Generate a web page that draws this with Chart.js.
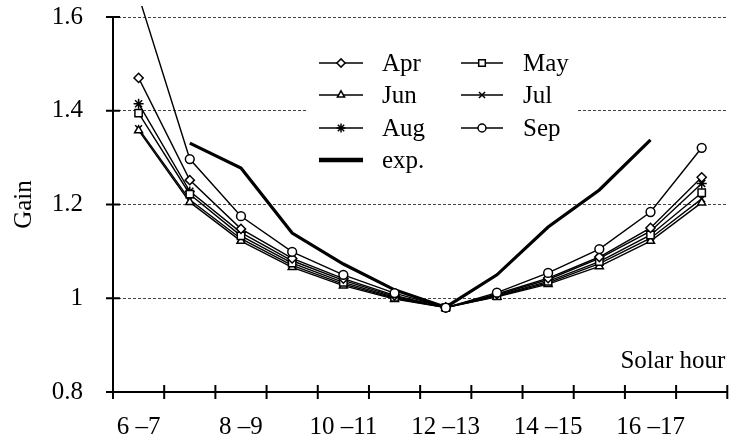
<!DOCTYPE html>
<html>
<head>
<meta charset="utf-8">
<script src="https://cdn.jsdelivr.net/npm/chart.js@4.4.1/dist/chart.umd.min.js"></script>
<style>
  html, body { margin: 0; padding: 0; background: #fff; }
  canvas { display: block; }
</style>
</head>
<body>
<canvas id="gain" width="734" height="441"></canvas>
<script>
// Hour intervals (solar time) on the x axis
const hours = ['6 –7', '7 –8', '8 –9', '9 –10', '10 –11', '11 –12',
               '12 –13', '13 –14', '14 –15', '15 –16', '16 –17', '17 –18'];
// Gain values on the y axis
const yTicks = [0.8, 1.0, 1.2, 1.4, 1.6];

// Monthly computed gain per hour interval
const apr = [1.470, 1.252, 1.148, 1.085, 1.042, 1.006, 0.980, 1.009, 1.043, 1.088, 1.150, 1.258];
const may = [1.395, 1.222, 1.133, 1.075, 1.034, 1.002, 0.980, 1.005, 1.036, 1.078, 1.135, 1.225];
const jun = [1.358, 1.205, 1.122, 1.066, 1.027, 0.998, 0.980, 1.003, 1.030, 1.068, 1.122, 1.204];
const jul = [1.362, 1.210, 1.127, 1.070, 1.030, 1.000, 0.980, 1.004, 1.033, 1.074, 1.128, 1.212];
const aug = [1.415, 1.228, 1.140, 1.080, 1.038, 1.004, 0.980, 1.007, 1.040, 1.085, 1.143, 1.245];
const sep = [1.645, 1.297, 1.175, 1.099, 1.050, 1.011, 0.980, 1.012, 1.054, 1.105, 1.184, 1.321];
// Measured gain
const measured = [null, 1.331, 1.278, 1.139, 1.073, 1.018, 0.981, 1.050, 1.152, 1.231, 1.338, null];

const SERIF = '"Liberation Serif", "Times New Roman", serif';
const FONT = { family: SERIF, size: 25 };

function monthSeries(label, data, style, radius) {
  return {
    label, data,
    borderColor: '#000', borderWidth: 1.4,
    pointStyle: style, pointRadius: radius, pointHoverRadius: radius,
    pointBackgroundColor: '#fff', pointBorderColor: '#000', pointBorderWidth: 1.5,
    tension: 0, spanGaps: false,
    clip: { left: 10, top: 11, right: 10, bottom: 10 }
  };
}

const datasets = [
  monthSeries('Apr', apr, 'rectRot', 4.6),
  monthSeries('May', may, 'rect', 5.2),
  monthSeries('Jun', jun, 'triangle', 4.6),
  monthSeries('Jul', jul, 'crossRot', 4.8),
  monthSeries('Aug', aug, 'star', 5),
  monthSeries('Sep', sep, 'circle', 4.4),
  {
    label: 'exp.', data: measured,
    borderColor: '#000', borderWidth: 3.2,
    pointRadius: 0, pointHoverRadius: 0, pointStyle: false,
    tension: 0, spanGaps: false
  }
];
datasets[5].order = -1;

// Axis lines with crossing tick marks, in-plot legend and x-axis caption
const frame = {
  id: 'frame',
  afterDraw(chart) {
    const { ctx, chartArea: a, scales: { x, y } } = chart;
    ctx.save();
    ctx.strokeStyle = '#000';
    ctx.lineWidth = 2;
    ctx.lineCap = 'butt';
    ctx.beginPath();
    ctx.moveTo(a.left, y.getPixelForValue(yTicks[yTicks.length - 1]));
    ctx.lineTo(a.left, a.bottom);
    ctx.moveTo(a.left, a.bottom);
    ctx.lineTo(a.right + 1, a.bottom);
    yTicks.forEach(v => {
      const py = y.getPixelForValue(v);
      ctx.moveTo(a.left - 7, py);
      ctx.lineTo(a.left + 7, py);
    });
    for (let i = 0; i <= hours.length; i++) {
      const px = x.getPixelForValue(i - 0.5);
      ctx.moveTo(px, a.bottom - 7);
      ctx.lineTo(px, a.bottom + 7);
    }
    ctx.stroke();

    // legend panel
    ctx.fillStyle = '#fff';
    ctx.fillRect(306, 40, 271, 138);
    const rows = [63, 95, 128, 160];
    const cols = [{ l0: 319, l1: 363, tx: 382 }, { l0: 461, l1: 503, tx: 523 }];
    ctx.font = `25px ${SERIF}`;
    ctx.textBaseline = 'middle';
    ctx.textAlign = 'left';
    datasets.forEach((ds, i) => {
      const c = cols[i === 6 ? 0 : i % 2];
      const r = rows[i === 6 ? 3 : Math.floor(i / 2)];
      ctx.strokeStyle = '#000';
      ctx.lineWidth = i === 6 ? 4.5 : 1.6;
      ctx.beginPath();
      ctx.moveTo(c.l0, r);
      ctx.lineTo(c.l1, r);
      ctx.stroke();
      if (ds.pointStyle) {
        ctx.fillStyle = '#fff';
        ctx.lineWidth = 1.5;
        Chart.helpers.drawPoint(ctx, {
          pointStyle: ds.pointStyle, radius: ds.pointRadius * 0.9,
          rotation: 0, borderWidth: 1.5
        }, (c.l0 + c.l1) / 2, r);
      }
      ctx.fillStyle = '#000';
      ctx.fillText(ds.label, c.tx, r + 1);
    });

    // x-axis caption inside the plot
    ctx.textAlign = 'right';
    ctx.fillText('Solar hour', a.right - 2, 361);
    ctx.restore();
  }
};

Chart.defaults.color = '#000';
Chart.defaults.font.family = SERIF;

new Chart(document.getElementById('gain'), {
  type: 'line',
  data: { labels: hours, datasets },
  options: {
    responsive: false,
    animation: false,
    devicePixelRatio: 1,
    layout: { padding: { top: 17, right: 3, left: 0, bottom: 0 } },
    plugins: { legend: { display: false }, tooltip: { enabled: false } },
    scales: {
      x: {
        type: 'category',
        offset: true,
        grid: { display: false, drawTicks: false },
        border: { display: false },
        ticks: {
          font: FONT, color: '#000', padding: 20,
          autoSkip: false, maxRotation: 0,
          callback: (v, i) => (i % 2 === 0 ? hours[i] : '')
        },
        afterFit: s => { s.height = 49; }
      },
      y: {
        min: 0.8, max: 1.6,
        afterBuildTicks: s => { s.ticks = yTicks.map(v => ({ value: v })); },
        grid: {
          drawTicks: true,
          tickLength: 30,
          tickColor: 'rgba(0,0,0,0)',
          color: '#444',
          lineWidth: c => (c.tick && c.tick.value > 0.85 ? 1 : 0)
        },
        border: { display: false, dash: [3, 2] },
        ticks: {
          font: FONT, color: '#000', padding: 0,
          callback: v => String(Number(v.toFixed(1)))
        },
        title: {
          display: true, text: 'Gain', font: FONT, color: '#000',
          padding: { top: 9, bottom: 0 }
        },
        afterFit: s => { s.width = 113; }
      }
    }
  },
  plugins: [frame]
});
</script>
</body>
</html>
